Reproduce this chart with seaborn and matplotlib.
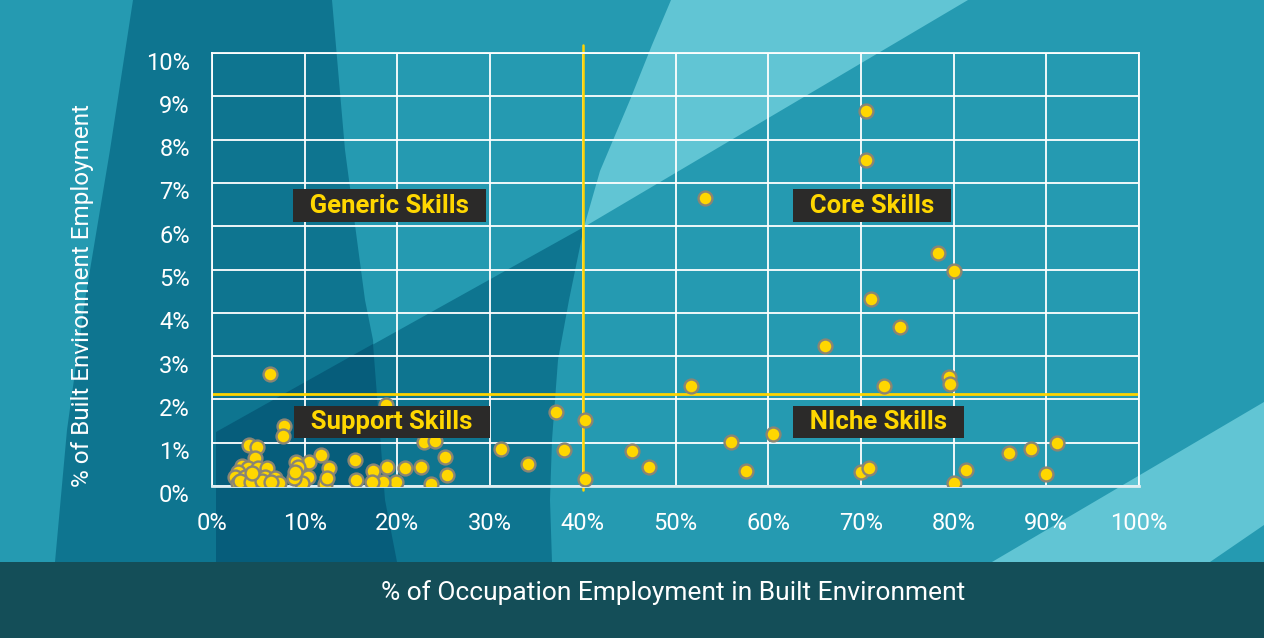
import numpy as np
import pandas as pd
import seaborn as sns
import matplotlib.pyplot as plt
import matplotlib.transforms as mtransforms
from matplotlib.patches import Polygon

# % of occupation employment in built environment (x) vs % of built environment employment (y)
occ_share = [70.6, 70.6, 53.2, 78.3, 80.0, 71.1, 74.2, 66.1, 51.7, 72.5, 79.5, 79.6,
             37.1, 40.2, 31.2, 34.1, 38.0, 40.2, 45.3, 47.1, 56.0, 57.6, 60.5, 70.0,
             70.9, 80.0, 81.3, 86.0, 88.3, 90.0, 91.2,
             6.3, 18.8, 7.8, 7.7, 4.0, 4.9, 4.6, 22.9, 24.1, 25.1, 11.8, 10.5, 9.1, 9.3,
             15.4, 12.6, 17.4, 18.9, 20.8, 22.5, 25.4, 23.6, 19.8, 18.4, 17.3, 15.5, 12.2,
             12.4, 10.4, 9.7, 8.8, 8.95,
             3.2, 3.9, 5.0, 5.9, 2.8, 2.5, 3.6, 4.6, 5.7, 6.8, 2.8, 3.6, 5.0, 6.0, 7.2,
             3.0, 4.2, 5.4, 6.4, 4.3]
be_share = [8.66, 7.53, 6.65, 5.37, 4.97, 4.32, 3.68, 3.23, 2.32, 2.32, 2.52, 2.35,
            1.72, 1.52, 0.85, 0.51, 0.82, 0.17, 0.81, 0.44, 1.02, 0.35, 1.21, 0.33,
            0.42, 0.06, 0.37, 0.77, 0.85, 0.28, 0.99,
            2.58, 1.88, 1.39, 1.16, 0.95, 0.89, 0.64, 1.01, 1.04, 0.68, 0.72, 0.56, 0.56, 0.45,
            0.60, 0.41, 0.35, 0.45, 0.42, 0.43, 0.25, 0.05, 0.09, 0.10, 0.09, 0.13, 0.05,
            0.18, 0.21, 0.06, 0.18, 0.33,
            0.46, 0.41, 0.41, 0.41, 0.33, 0.21, 0.21, 0.21, 0.21, 0.18, 0.06, 0.04, 0.06, 0.04, 0.06,
            0.12, 0.10, 0.12, 0.10, 0.30]

x_ticks = list(range(0, 101, 10))
x_tick_labels = [f"{v}%" for v in x_ticks]
y_ticks = list(range(0, 11))
y_tick_labels = [f"{v}%" for v in y_ticks]

occ_cut = 40      # vertical divider
be_cut = 2.12     # horizontal divider

quadrants = ["Generic Skills", "Core Skills", "Support Skills", "NIche Skills"]

df = pd.DataFrame({"occ": occ_share, "be": be_share})

sns.set_style("white")
plt.rcParams['font.family'] = ['Roboto', 'DejaVu Sans']

W, H = 1264, 638
fig = plt.figure(figsize=(W / 100, H / 100), dpi=100, facecolor='#259AB1')

def px(pts):
    # pixel coords (from top left) -> figure fraction
    return [(x / W, 1 - y / H) for x, y in pts]

def add_shape(pts, color):
    fig.add_artist(Polygon(px(pts), closed=True, transform=fig.transFigure,
                           fc=color, ec='none', zorder=-10))

# background shapes
add_shape([(133, 0), (110, 150), (85, 300), (67, 430), (55, 562), (397, 562),
           (385, 500), (373, 340), (365, 300), (345, 150), (332, 0)], '#0E7590')
add_shape([(216, 432), (584, 227), (569, 300), (558, 360), (552, 440), (550, 500),
           (552, 562), (216, 562)], '#0E7590')
add_shape([(216, 432), (373, 344), (385, 500), (397, 562), (216, 562)], '#065D7B')
add_shape([(671, 0), (968, 0), (584, 227), (600, 171), (630, 100), (652, 45)], '#61C5D4')
add_shape([(992, 562), (1264, 402), (1264, 525), (1210, 562)], '#61C5D4')
add_shape([(0, 562), (1264, 562), (1264, 638), (0, 638)], '#144E58')

ax = fig.add_axes([212 / W, 1 - 486 / H, 927 / W, 433 / H])
ax.set_facecolor('none')

sns.scatterplot(data=df, x="occ", y="be", color='#FFD700', edgecolor='#8A8574',
                linewidth=1.7, s=100, zorder=3, ax=ax, legend=False)

ax.set_xlim(0, 100)
ax.set_ylim(0, 10)
ax.set_xticks(x_ticks)
ax.set_xticklabels(x_tick_labels)
ax.set_yticks(y_ticks)
ax.set_yticklabels(y_tick_labels)
ax.tick_params(length=0, labelsize=17, labelcolor='white')
ax.tick_params(axis='x', pad=19)
ax.tick_params(axis='y', pad=16)
# y labels sit a little below their gridlines in the original
shift = mtransforms.ScaledTranslation(0, -0.075, fig.dpi_scale_trans)
for lab in ax.get_yticklabels():
    lab.set_transform(lab.get_transform() + shift)
ax.grid(True, color='white', lw=1.3)
ax.set_axisbelow(True)
for s in ax.spines.values():
    s.set_color('white')
    s.set_linewidth(1.3)
ax.spines['bottom'].set_color('#DDEEF2')
ax.spines['bottom'].set_linewidth(2)

# quadrant dividers
ax.axvline(occ_cut, ymin=-0.01, ymax=1.018, color='#FFD400', lw=1.8, clip_on=False, zorder=2)
ax.axhline(be_cut, color='#FFD400', lw=2, zorder=2)

box = dict(boxstyle='square,pad=0.17', fc='#2B2A29', ec='none')
label_pos = [(9.2, 6.47), (63.1, 6.47), (9.3, 1.48), (63.1, 1.48)]
for name, (lx, ly) in zip(quadrants, label_pos):
    ax.text(lx, ly, f"  {name}  ", color='#FFD700', fontsize=18.5, fontweight='bold',
            ha='left', va='center', bbox=box, zorder=5)

ax.set_xlabel("% of Occupation Employment in Built Environment", color='white', fontsize=19)
ax.xaxis.set_label_coords(0.497, -0.245)
ax.xaxis.label.set_va('center')
ax.set_ylabel("% of Built Environment Employment", color='white', fontsize=17.5)
ax.yaxis.set_label_coords(-0.14, 0.44)
ax.yaxis.label.set_va('center')

plt.savefig("out.png", dpi=100, facecolor=fig.get_facecolor())
